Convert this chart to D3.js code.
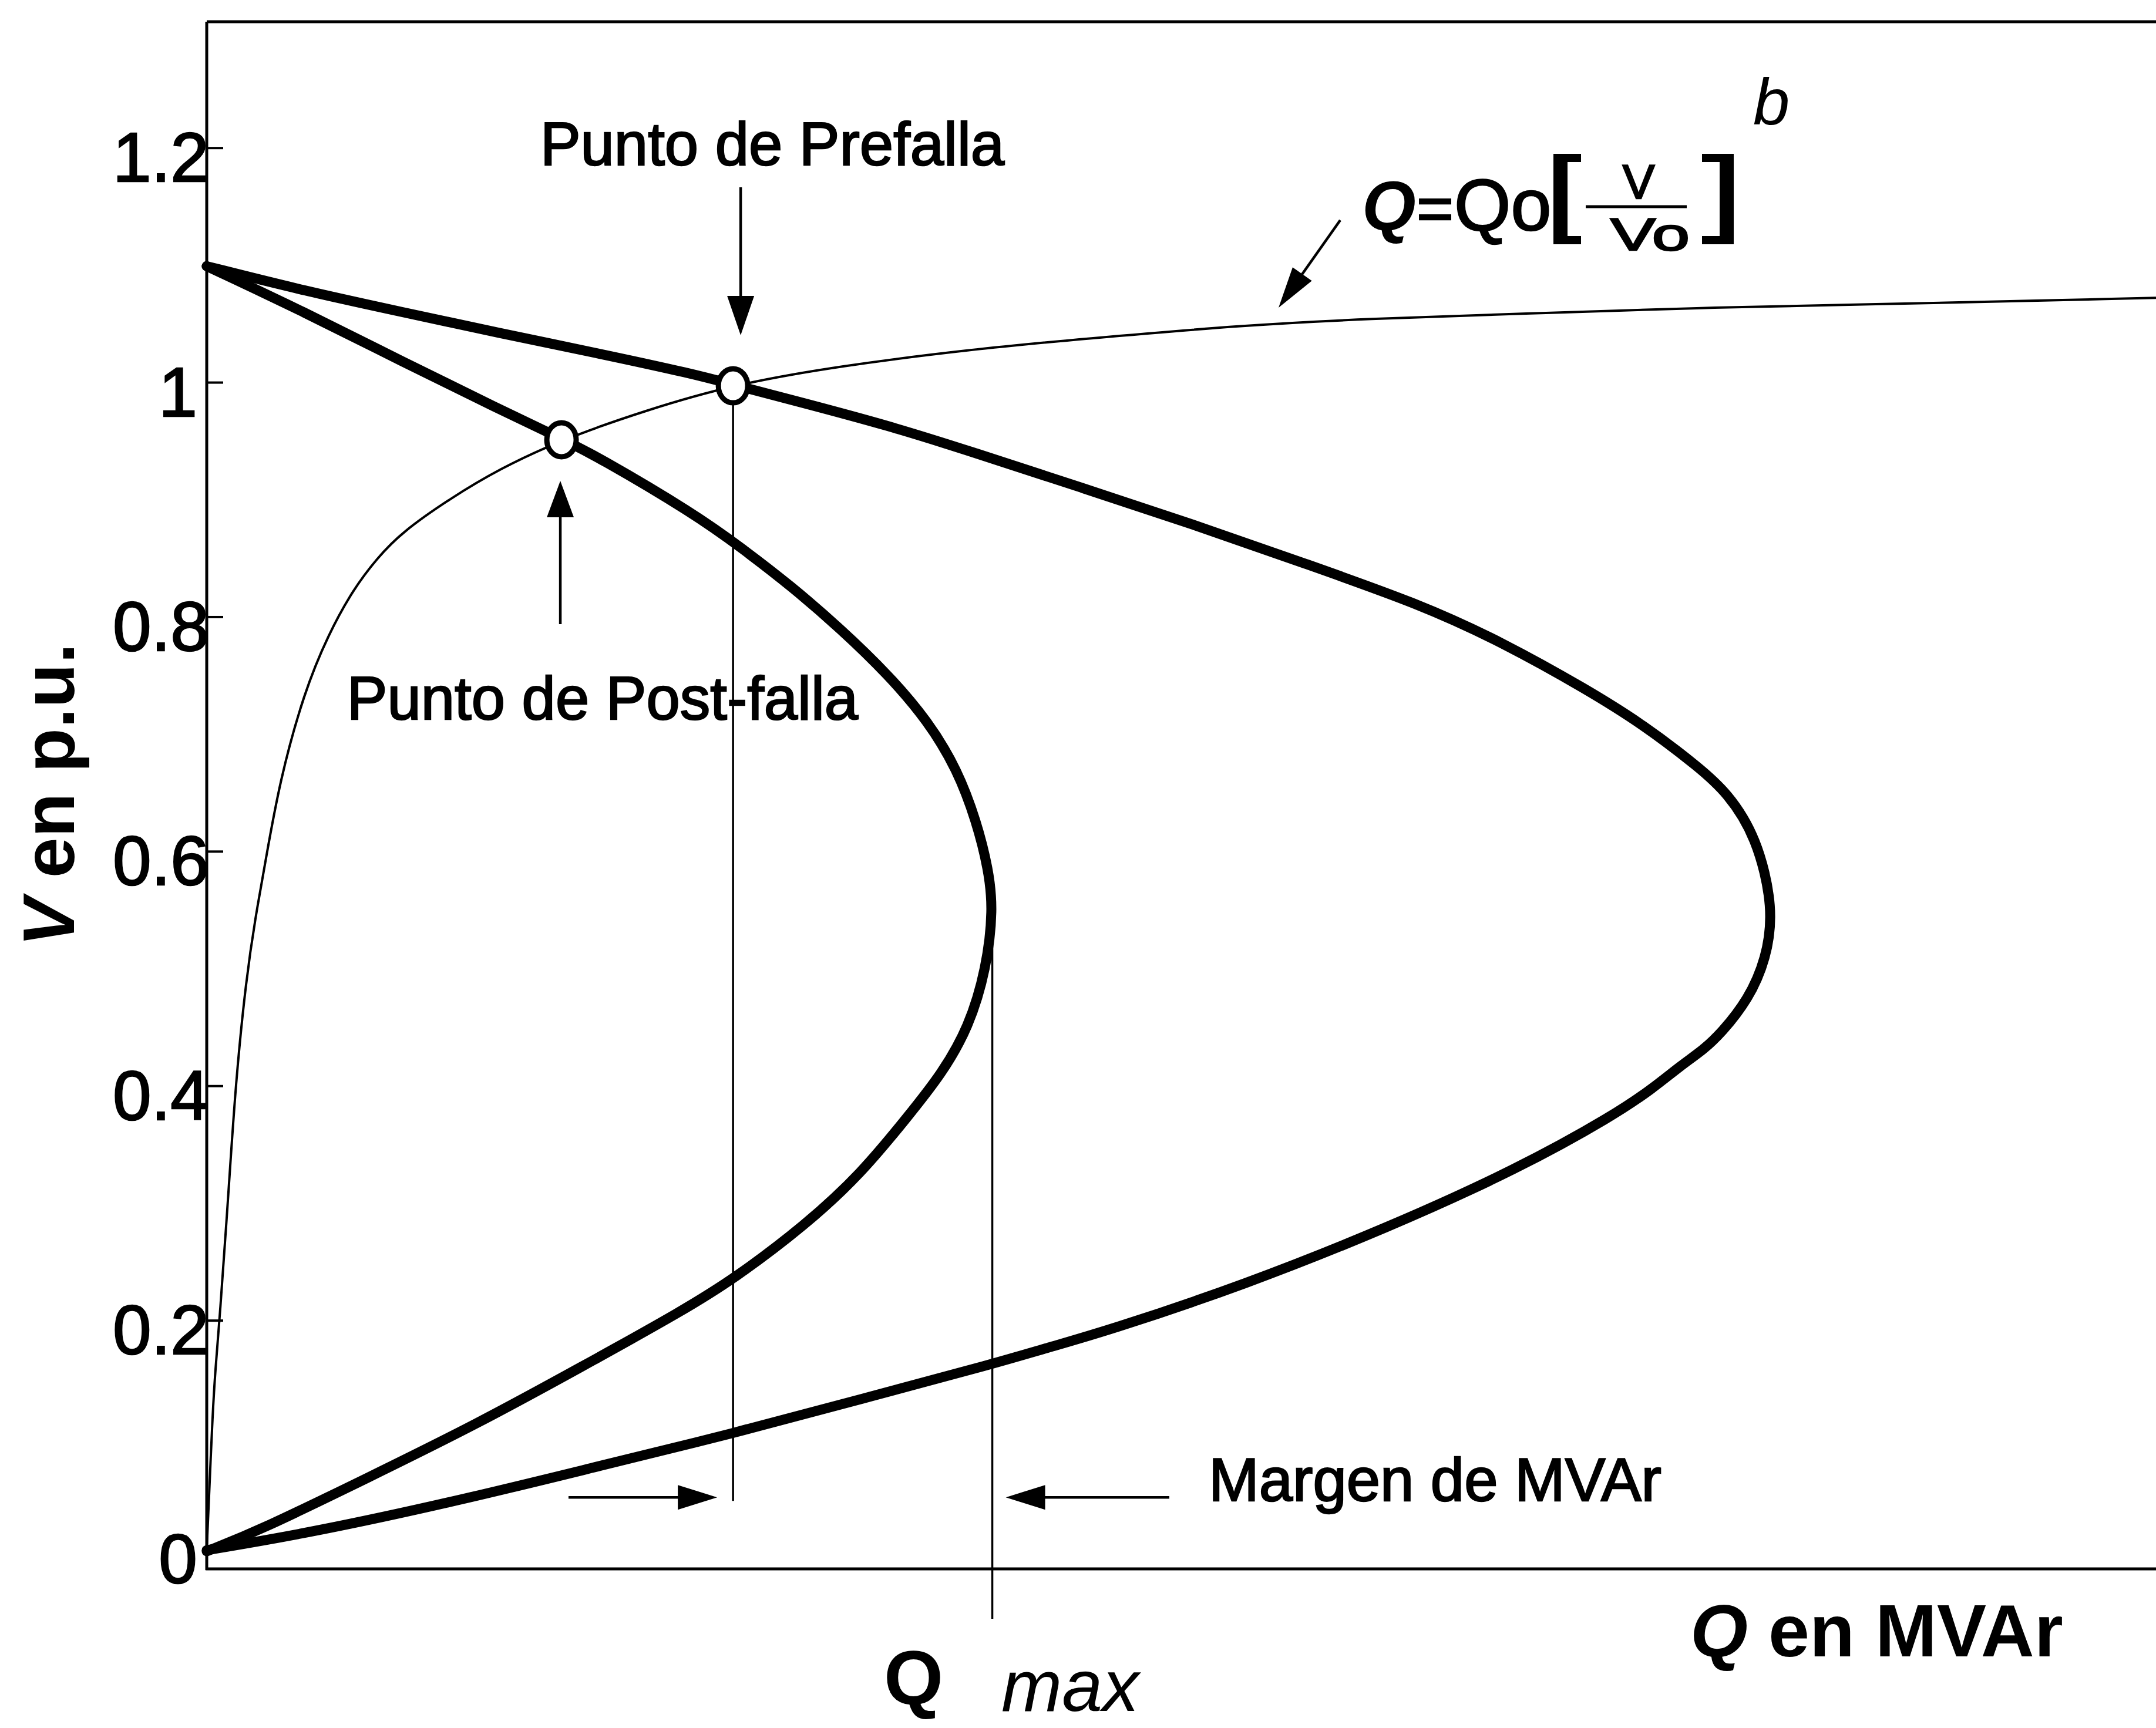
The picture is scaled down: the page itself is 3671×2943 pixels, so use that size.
<!DOCTYPE html>
<html>
<head>
<meta charset="utf-8">
<script src="https://cdn.jsdelivr.net/npm/d3@7"></script>
<style>
  html, body { margin: 0; padding: 0; background: #fff; }
  svg { display: block; }
  text { font-family: "Liberation Sans", Arial, Helvetica, sans-serif; fill: #000; }
</style>
</head>
<body>
<svg id="chart" width="3671" height="2943"></svg>
<script>
// Curva V-Q de prefalla (red intacta): [Q, V]
const prefallaCurve = [
  [0, 1.099], [5.0, 1.078], [10.0, 1.060], [15.0, 1.042], [20.0, 1.025],
  [25.0, 1.007], [27.0, 0.998], [30.0, 0.985], [35.0, 0.963], [39.2, 0.941],
  [44.9, 0.910], [50.6, 0.879], [56.4, 0.845], [62.2, 0.811], [66.5, 0.778],
  [70.8, 0.738], [73.7, 0.708], [76.6, 0.671], [78.0, 0.650], [79.5, 0.613],
  [80.4, 0.551], [80.0, 0.508], [79.1, 0.474], [77.7, 0.445], [76.8, 0.431],
  [75.6, 0.417], [74.2, 0.398], [72.2, 0.375], [67.3, 0.3295], [60.6, 0.279],
  [53.2, 0.230], [46.2, 0.191], [43.0, 0.176], [40.6, 0.164], [33.6, 0.133],
  [26.9, 0.103], [20.2, 0.076], [13.4, 0.048], [5.4, 0.019], [0, 0.004]
];

// Curva V-Q de post-falla: [Q, V]
const postfallaCurve = [
  [0, 1.099], [5.0, 1.060], [10.0, 1.018], [15.0, 0.977], [18.2, 0.952],
  [20.0, 0.937], [25.0, 0.888], [27.5, 0.858], [30.0, 0.826], [32.5, 0.790],
  [35.0, 0.750], [37.0, 0.711], [38.5, 0.670], [39.5, 0.625], [40.1, 0.585],
  [40.35, 0.551], [40.0, 0.500], [39.1, 0.450], [37.7, 0.410], [36.0, 0.3745],
  [33.6, 0.3255], [30.7, 0.281], [27.1, 0.236], [24.5, 0.209], [19.2, 0.160],
  [13.8, 0.111], [8.3, 0.066], [2.8, 0.0215], [0, 0.003]
];

// Característica de la carga Q = Qo (V/Vo)^b: [Q, V]
const loadCurve = [
  [0, 0.005], [0.12, 0.05], [0.3, 0.12], [0.45, 0.16], [0.66, 0.200],
  [1.13, 0.312], [1.48, 0.402], [2.02, 0.491], [2.5, 0.544], [3.0, 0.590],
  [3.74, 0.660], [5.0, 0.736], [6.24, 0.785], [7.5, 0.823], [8.74, 0.850],
  [10.0, 0.872], [12.5, 0.901], [15.0, 0.926], [18.2, 0.951], [22.5, 0.976],
  [27.0, 0.998], [32.5, 1.014], [39.2, 1.028], [44.9, 1.037], [53.5, 1.049],
  [59.3, 1.054], [67.9, 1.0587], [76.6, 1.0636], [84.3, 1.066], [100, 1.072]
];

// Puntos de operación (intersección carga / red): [Q, V]
const operatingPoints = [
  { name: "Prefalla", q: 27.0, v: 0.997 },
  { name: "Post-falla", q: 18.2, v: 0.951 }
];

// Potencia reactiva máxima de la red post-falla
const qMax = 40.3;
const vAtQmax = 0.551;

// Ticks del eje de tensión
const vTicks = [0, 0.2, 0.4, 0.6, 0.8, 1.0, 1.2];
const vTickLabels = ["0", "0.2", "0.4", "0.6", "0.8", "1", "1.2"];

// Dominios de los ejes
const qDomain = [0, 100];
const vDomain = [-0.012, 1.3075];

// ---------------------------------------------------------------
const svg = d3.select("#chart");
const W = 3671, H = 2943;
const plot = { left: 352, right: 3671, top: 37, bottom: 2672 };

svg.append("rect").attr("width", W).attr("height", H).attr("fill", "#fff");

const x = d3.scaleLinear().domain(qDomain).range([plot.left, plot.right]);
const y = d3.scaleLinear().domain(vDomain).range([plot.bottom, plot.top]);

// Frame: top border and bottom axis line
svg.append("line")
  .attr("x1", plot.left).attr("x2", plot.right)
  .attr("y1", plot.top).attr("y2", plot.top)
  .attr("stroke", "#000").attr("stroke-width", 5);
svg.append("line")
  .attr("x1", plot.left - 2).attr("x2", plot.right)
  .attr("y1", plot.bottom).attr("y2", plot.bottom)
  .attr("stroke", "#000").attr("stroke-width", 5);

// Left axis with inward ticks
const yAxis = d3.axisLeft(y)
  .tickValues(vTicks)
  .tickFormat((d, i) => vTickLabels[i])
  .tickSizeInner(-28)
  .tickSizeOuter(0)
  .tickPadding(-2);

const gy = svg.append("g")
  .attr("transform", `translate(${plot.left},0)`)
  .call(yAxis);
gy.select(".domain")
  .attr("d", `M0,${plot.top}V${plot.bottom + 2}`)
  .attr("stroke", "#000").attr("stroke-width", 5);
gy.selectAll(".tick line")
  .attr("stroke", "#000").attr("stroke-width", 4)
  .attr("display", d => d === 0 ? "none" : null);
gy.selectAll(".tick text")
  .attr("font-size", 118)
  .attr("font-family", "'Liberation Sans', Arial, sans-serif")
  .attr("fill", "#000")
  .attr("stroke", "#000").attr("stroke-width", 2.5)
  .attr("dy", null)
  .attr("y", d => d === 0 ? 47 : 57)
  .attr("x", (d, i) => vTickLabels[i].length === 1 ? -16 : 4);

// Curves
const line = d3.line()
  .x(d => x(d[0]))
  .y(d => y(d[1]))
  .curve(d3.curveBasis);

svg.append("path")
  .datum(loadCurve)
  .attr("d", line)
  .attr("fill", "none").attr("stroke", "#000")
  .attr("stroke-width", 4).attr("stroke-linejoin", "round");

[prefallaCurve, postfallaCurve].forEach(c => {
  svg.append("path")
    .datum(c)
    .attr("d", line)
    .attr("fill", "none").attr("stroke", "#000")
    .attr("stroke-width", 17)
    .attr("stroke-linejoin", "round").attr("stroke-linecap", "round");
});

// Arrow helper (filled triangular head)
function arrow(x1, y1, x2, y2, headLen, headW, sw) {
  const dx = x2 - x1, dy = y2 - y1;
  const len = Math.hypot(dx, dy);
  const ux = dx / len, uy = dy / len;
  const bx = x2 - ux * headLen, by = y2 - uy * headLen;
  svg.append("line")
    .attr("x1", x1).attr("y1", y1).attr("x2", bx + ux * 4).attr("y2", by + uy * 4)
    .attr("stroke", "#000").attr("stroke-width", sw);
  const px = -uy, py = ux;
  svg.append("path")
    .attr("d", `M${x2},${y2}L${bx + px * headW / 2},${by + py * headW / 2}L${bx - px * headW / 2},${by - py * headW / 2}Z`)
    .attr("fill", "#000");
}

// Annotation texts (slightly heavy strokes, as in print)
function label(txt, xp, yp, size, anchor) {
  return svg.append("text")
    .attr("x", xp).attr("y", yp)
    .attr("font-size", size)
    .attr("text-anchor", anchor || "start")
    .attr("stroke", "#000").attr("stroke-width", 2.5)
    .text(txt);
}

label("Punto de Prefalla", 1315, 281, 103, "middle");
label("Punto de Post-falla", 1026, 1225, 103, "middle");
label("Margen de MVAr", 2058, 2556, 103, "start");

// Reference lines at the pre-fault point and at Qmax
const pre = operatingPoints[0], post = operatingPoints[1];
svg.append("line")
  .attr("x1", x(pre.q)).attr("x2", x(pre.q))
  .attr("y1", y(pre.v)).attr("y2", y(0.046))
  .attr("stroke", "#000").attr("stroke-width", 3.5);
svg.append("line")
  .attr("x1", x(qMax)).attr("x2", x(qMax))
  .attr("y1", y(vAtQmax + 0.027)).attr("y2", 2757)
  .attr("stroke", "#000").attr("stroke-width", 3.5);

// Operating point markers
svg.selectAll(".op")
  .data(operatingPoints)
  .join("ellipse")
  .attr("class", "op")
  .attr("cx", d => x(d.q)).attr("cy", d => y(d.v))
  .attr("rx", 25).attr("ry", 29)
  .attr("fill", "#fff").attr("stroke", "#000").attr("stroke-width", 9);

// Arrows to the operating points
arrow(x(pre.q) + 13, 319, x(pre.q) + 13, 571, 67, 46, 4.5);
arrow(x(post.q) - 2, 1063, x(post.q) - 2, 819, 62, 46, 4.5);

// MVAr margin arrows
const vMargin = 0.049;
arrow(968, y(vMargin), x(pre.q) - 27, y(vMargin), 67, 42, 4.5);
arrow(1991, y(vMargin), x(qMax) + 23, y(vMargin), 67, 42, 4.5);

// Load characteristic formula
arrow(2282, 375, 2177, 524, 70, 40, 4.5);
svg.append("text")
  .attr("x", 2319).attr("y", 392)
  .attr("font-size", 118).attr("font-weight", "bold").attr("font-style", "italic")
  .text("Q");
label("=", 2412, 392, 108, "start");
label("Qo", 2476, 392, 124, "start");

// Brackets
svg.append("path")
  .attr("d", "M2645,262H2692V276H2669V402H2692V416H2645Z")
  .attr("fill", "#000");
svg.append("path")
  .attr("d", "M2952,262H2898V276H2928V402H2898V416H2952Z")
  .attr("fill", "#000");
// Fraction V / Vo
svg.append("line")
  .attr("x1", 2700).attr("x2", 2872).attr("y1", 352).attr("y2", 352)
  .attr("stroke", "#000").attr("stroke-width", 5);
label("V", 2790, 338, 82, "middle");
label("Vo", 2742, 426, 78, "start")
  .attr("textLength", 135).attr("lengthAdjust", "spacingAndGlyphs");
svg.append("text")
  .attr("x", 2985).attr("y", 212)
  .attr("font-size", 112)
  .attr("font-family", "'Liberation Serif', 'Times New Roman', serif")
  .attr("font-style", "italic")
  .text("b");

// Axis titles
const yt = svg.append("text")
  .attr("transform", "translate(126,1354) rotate(-90)")
  .attr("text-anchor", "middle")
  .attr("font-size", 124)
  .attr("font-weight", "bold");
yt.append("tspan").attr("font-style", "italic").text("V");
yt.append("tspan").text(" en p.u.");

const xt = svg.append("text")
  .attr("x", 2878).attr("y", 2821)
  .attr("font-size", 126)
  .attr("font-weight", "bold");
xt.append("tspan").attr("font-style", "italic").text("Q");
xt.append("tspan").text(" en MVAr");

// Qmax label
svg.append("text")
  .attr("x", 1505).attr("y", 2902)
  .attr("font-size", 130).attr("font-weight", "bold")
  .text("Q");
svg.append("text")
  .attr("x", 1705).attr("y", 2914)
  .attr("font-size", 124).attr("font-style", "italic")
  .text("max");
</script>
</body>
</html>
